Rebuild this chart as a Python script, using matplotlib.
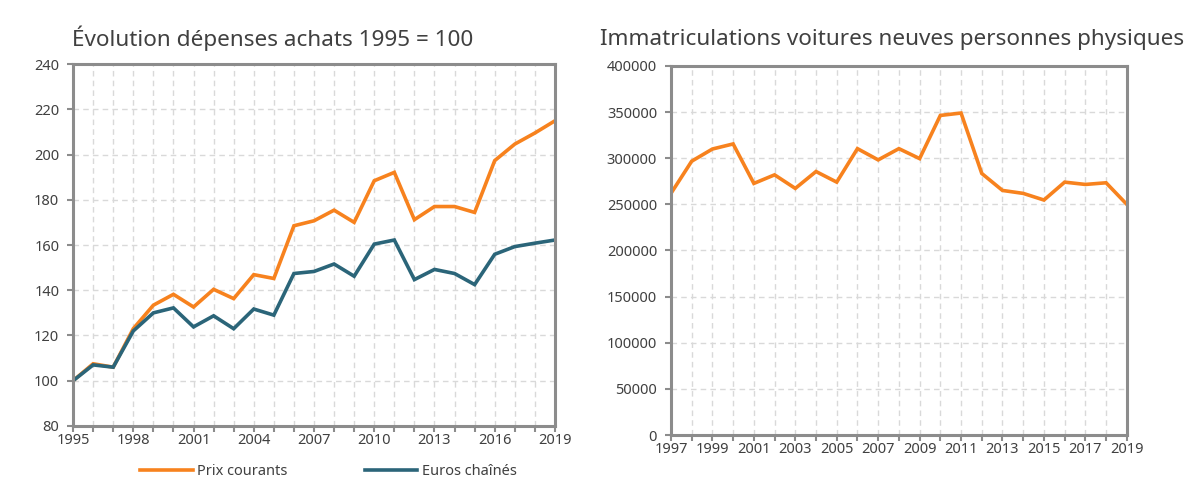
import matplotlib.pyplot as plt
from matplotlib.ticker import MultipleLocator

plt.rcParams["font.family"] = ["Noto Sans", "DejaVu Sans"]

years_a = list(range(1995, 2020))
prix_courants = [100, 107.5, 106, 123, 133.4, 138.2, 132.6, 140.4, 136.3, 146.9,
                 145.2, 168.5, 170.7, 175.4, 170, 188.4, 192.1, 171.2, 177, 177,
                 174.4, 197.3, 204.6, 209.5, 214.9]
euros_chaines = [100, 107, 106, 122, 130, 132.2, 123.8, 128.7, 123, 131.7,
                 129, 147.4, 148.3, 151.6, 146.2, 160.4, 162.2, 144.7, 149.2, 147.4,
                 142.5, 155.9, 159.3, 160.8, 162.2]

years_b = list(range(1997, 2020))
immat = [261900, 296800, 310000, 315500, 272700, 282000, 267300, 285600, 274100,
         310400, 298200, 310400, 299600, 346400, 349000, 283500, 265100, 261900,
         254700, 274100, 271600, 273400, 250000]

ORANGE = "#F7821E"
BLUE = "#2B6579"
SPINE = "#8C8C8C"
GRID = "#D9D9D9"
TXT = "#404040"

fig = plt.figure(figsize=(11.84, 4.82), dpi=100)
ax1 = fig.add_axes([0.0617, 0.1162, 0.407, 0.751])
ax2 = fig.add_axes([0.5667, 0.0975, 0.385, 0.7656])


def style(ax):
    for s in ax.spines.values():
        s.set_color(SPINE)
        s.set_linewidth(2.2)
    ax.grid(True, which="both", color=GRID, linestyle=(0, (4, 3)), linewidth=1)
    ax.tick_params(which="both", colors=SPINE, labelcolor=TXT, labelsize=10.5,
                   length=4, width=1.5, direction="out", pad=1)
    ax.tick_params(axis="y", pad=6)
    ax.set_axisbelow(True)


ax1.plot(years_a, prix_courants, color=ORANGE, lw=2.6, label="Prix courants",
         solid_joinstyle="miter")
ax1.plot(years_a, euros_chaines, color=BLUE, lw=2.6, label="Euros chaînés",
         solid_joinstyle="miter")
ax1.set_xlim(1995, 2019)
ax1.set_ylim(80, 240)
ax1.set_xticks(years_a[::3])
ax1.xaxis.set_minor_locator(MultipleLocator(1))
ax1.yaxis.set_major_locator(MultipleLocator(20))
style(ax1)
ax1.set_title("Évolution dépenses achats 1995 = 100", loc="left", fontsize=16.2,
              color=TXT, pad=13, x=-0.003)
ax1.legend(loc="upper center", bbox_to_anchor=(0.53, -0.07), ncol=2, frameon=False,
           fontsize=10.5, columnspacing=5.3, handlelength=3.6, handletextpad=0.3,
           labelcolor=TXT)

ax2.plot(years_b, immat, color=ORANGE, lw=2.6, solid_joinstyle="miter")
ax2.set_xlim(1997, 2019)
ax2.set_ylim(0, 400000)
ax2.set_xticks(years_b[::2])
ax2.xaxis.set_minor_locator(MultipleLocator(1))
ax2.yaxis.set_major_locator(MultipleLocator(50000))
style(ax2)
ax2.set_title("Immatriculations voitures neuves personnes physiques", loc="left",
              fontsize=16.2, color=TXT, pad=15, x=-0.156)

fig.savefig("out.png", dpi=100)
